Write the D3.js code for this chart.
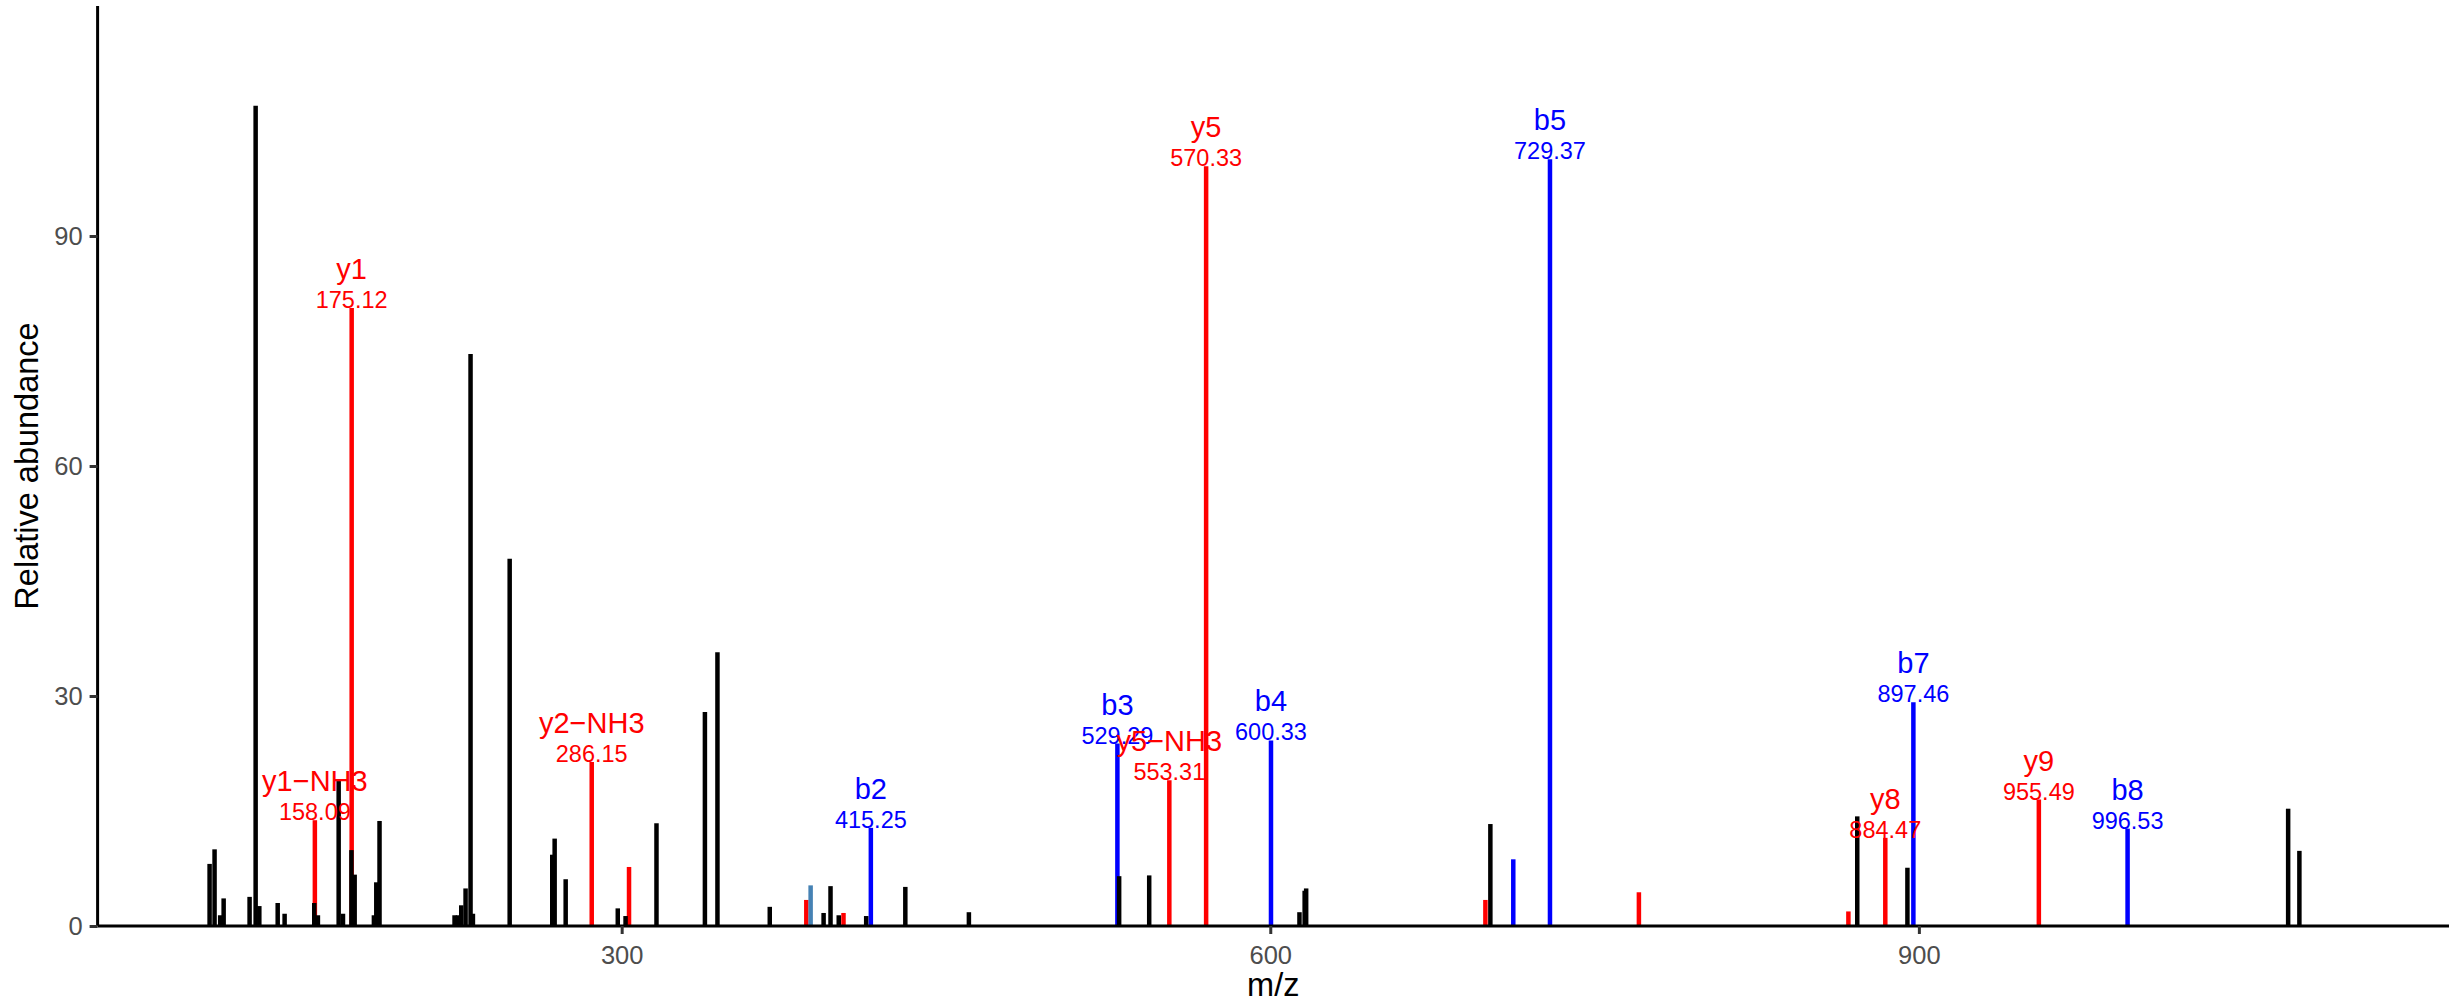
<!DOCTYPE html>
<html>
<head>
<meta charset="utf-8">
<script src="https://cdn.jsdelivr.net/npm/d3@7"></script>
<style>
  html, body { margin: 0; padding: 0; background: #ffffff; }
  svg { display: block; font-family: "Liberation Sans", Arial, Helvetica, sans-serif; }
</style>
</head>
<body>
<svg id="chart" width="2449" height="1002"></svg>
<script>
// ---------------- data ----------------
// unmatched (black) peaks
const blackMz  = [109.4, 111.7, 114.3, 115.9, 127.9, 130.7, 132.4, 140.9, 144.1, 157.8,
                  159.5, 169.1, 171.1, 175.0, 176.5, 185.4, 186.5, 188.0, 222.7, 224.3,
                  225.8, 227.8, 230.1, 231.2, 248.2, 267.9, 269.0, 274.1, 298.2, 301.8,
                  316.1, 338.5, 344.3, 368.5, 393.4, 396.6, 400.4, 413.1, 431.2, 460.6,
                  530.1, 544.0, 613.5, 615.9, 616.6, 701.8, 871.5, 894.7, 1070.8, 1076.0];
const blackInt = [8.1, 10.0, 1.4, 3.6, 3.8, 107.0, 2.6, 3.0, 1.6, 3.0,
                  1.4, 19.1, 1.6, 9.9, 6.7, 1.4, 5.7, 13.7, 1.4, 1.4,
                  2.7, 4.9, 74.6, 1.6, 47.9, 9.3, 11.4, 6.1, 2.3, 1.3,
                  13.4, 27.9, 35.7, 2.5, 1.7, 5.2, 1.4, 1.3, 5.1, 1.8,
                  6.5, 6.6, 1.8, 4.6, 4.9, 13.3, 14.3, 7.6, 15.3, 9.8];

// matched (coloured) peaks
const ionMz   = [158.09, 175.12, 286.15, 303.4, 385.4, 387.4, 402.6, 415.25, 529.29, 553.31,
                 570.33, 600.33, 699.5, 712.4, 729.37, 770.5, 867.4, 884.47, 897.46, 955.49, 996.53];
const ionInt  = [13.8, 80.6, 21.4, 7.7, 3.4, 5.3, 1.7, 12.8, 23.8, 19.0,
                 99.1, 24.2, 3.4, 8.7, 100.0, 4.4, 1.9, 11.5, 29.2, 16.5, 12.7];
const ionType = ["y", "y", "y", "y", "y", "other", "y", "b", "b", "y",
                 "y", "b", "y", "b", "b", "y", "y", "y", "b", "y", "b"];
const ionName = ["y1\u2212NH3", "y1", "y2\u2212NH3", "", "", "", "", "b2", "b3", "y5\u2212NH3",
                 "y5", "b4", "", "", "b5", "", "", "y8", "b7", "y9", "b8"];
const ionMzLabel = ["158.09", "175.12", "286.15", "", "", "", "", "415.25", "529.29", "553.31",
                    "570.33", "600.33", "", "", "729.37", "", "", "884.47", "897.46", "955.49", "996.53"];

const xTicks = [300, 600, 900];
const yTicks = [0, 30, 60, 90];
const xTitle = "m/z";
const yTitle = "Relative abundance";

// ---------------- styles ----------------
const typeColor = { y: "#FF0000", b: "#0000FF", other: "#4682B4" };

const plotL = 97.6, plotR = 2449, plotT = 6, plotB = 926;

const svg = d3.select("#chart");

const x = d3.scaleLinear().domain([57.6, 1145.2]).range([plotL, plotR]);
const y = d3.scaleLinear().domain([0, 120]).range([plotB, plotT]);

const barW = 4.5;

const ions = ionMz.map((m, i) => ({ mz: m, v: ionInt[i], t: ionType[i], name: ionName[i], lab: ionMzLabel[i] }));
const blacks = blackMz.map((m, i) => ({ mz: m, v: blackInt[i] }));

// coloured peaks first, black peaks on top
svg.append("g").selectAll("line").data(ions).join("line")
  .attr("x1", d => x(d.mz)).attr("x2", d => x(d.mz))
  .attr("y1", y(0)).attr("y2", d => y(d.v))
  .attr("stroke", d => typeColor[d.t]).attr("stroke-width", barW);

svg.append("g").selectAll("line").data(blacks).join("line")
  .attr("x1", d => x(d.mz)).attr("x2", d => x(d.mz))
  .attr("y1", y(0)).attr("y2", d => y(d.v))
  .attr("stroke", "#000000").attr("stroke-width", barW);

// labels
const labelled = ions.filter(d => d.name !== "");
const lg = svg.append("g");
lg.selectAll("text.mz").data(labelled).join("text")
  .attr("class", "mz")
  .attr("x", d => x(d.mz)).attr("y", d => y(d.v))
  .attr("text-anchor", "middle")
  .attr("font-size", 23.5)
  .attr("fill", d => typeColor[d.t])
  .text(d => d.lab);
lg.selectAll("text.nm").data(labelled).join("text")
  .attr("class", "nm")
  .attr("x", d => x(d.mz)).attr("y", d => y(d.v) - 29)
  .attr("text-anchor", "middle")
  .attr("font-size", 29)
  .attr("fill", d => typeColor[d.t])
  .text(d => d.name);

// axes
const xAxis = svg.append("g").attr("transform", `translate(0,${plotB})`)
  .call(d3.axisBottom(x).tickValues(xTicks).tickSize(8).tickPadding(12).tickSizeOuter(0));
const yAxis = svg.append("g").attr("transform", `translate(${plotL},0)`)
  .call(d3.axisLeft(y).tickValues(yTicks).tickSize(8).tickPadding(7).tickSizeOuter(0));

[xAxis, yAxis].forEach(g => {
  g.select(".domain").attr("stroke", "#000000").attr("stroke-width", 3);
  g.selectAll(".tick line").attr("stroke", "#333333").attr("stroke-width", 3);
  g.selectAll(".tick text").attr("fill", "#4D4D4D").attr("font-size", 25.5)
    .attr("font-family", "'Liberation Sans', Arial, sans-serif");
});
xAxis.select(".domain").attr("d", `M${plotL},0H${plotR}`);
yAxis.select(".domain").attr("d", `M0,${plotT}V${plotB}`);

// titles
svg.append("text")
  .attr("x", (plotL + plotR) / 2).attr("y", 996)
  .attr("text-anchor", "middle").attr("font-size", 32.5).attr("fill", "#000")
  .text(xTitle);
svg.append("text")
  .attr("transform", `translate(38,${(plotT + plotB) / 2}) rotate(-90)`)
  .attr("text-anchor", "middle").attr("font-size", 32.5).attr("fill", "#000")
  .text(yTitle);
</script>
</body>
</html>
